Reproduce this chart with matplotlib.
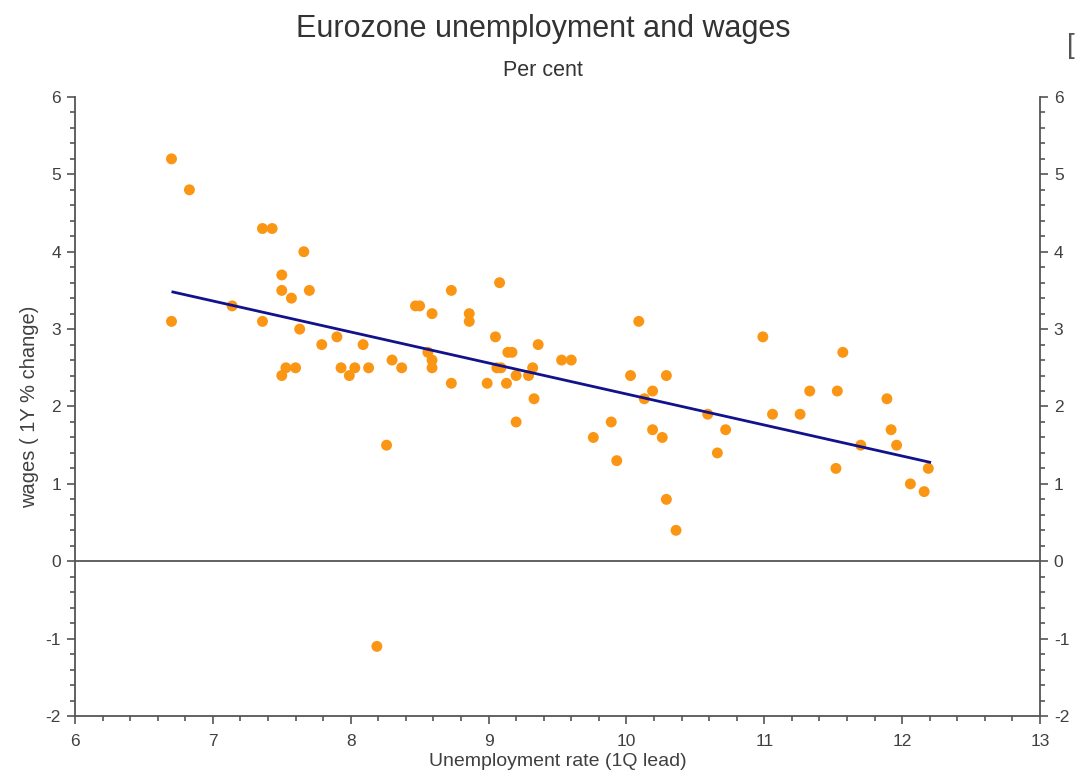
import matplotlib.pyplot as plt
from matplotlib.ticker import MultipleLocator

# unemployment rate (1Q lead), %
unemployment = [
    6.70, 6.83, 6.70, 7.14, 7.36, 7.43, 7.66, 7.50, 7.50, 7.70,
    7.57, 7.36, 7.63, 7.79, 7.90, 8.09, 7.50, 7.53, 7.60, 7.93,
    7.99, 8.03, 8.13, 8.30, 8.37, 8.26, 8.19, 8.47, 8.50, 8.73,
    8.59, 8.86, 8.86, 9.08, 9.05, 8.56, 8.59, 8.59, 9.06, 9.09,
    8.73, 8.99, 9.13, 9.14, 9.17, 9.36, 9.53, 9.60, 9.32, 9.20,
    9.29, 9.33, 9.20, 10.09, 10.03, 10.29, 10.19, 10.13, 9.89, 9.76,
    10.19, 10.26, 9.93, 10.29, 10.36, 10.99, 10.59, 10.72, 10.66, 11.06,
    11.26, 11.57, 11.33, 11.53, 11.89, 11.92, 11.70, 11.96, 11.52, 12.19,
    12.06, 12.16,
]
# wages, 1Y % change
wages = [
    5.2, 4.8, 3.1, 3.3, 4.3, 4.3, 4.0, 3.7, 3.5, 3.5,
    3.4, 3.1, 3.0, 2.8, 2.9, 2.8, 2.4, 2.5, 2.5, 2.5,
    2.4, 2.5, 2.5, 2.6, 2.5, 1.5, -1.1, 3.3, 3.3, 3.5,
    3.2, 3.2, 3.1, 3.6, 2.9, 2.7, 2.6, 2.5, 2.5, 2.5,
    2.3, 2.3, 2.3, 2.7, 2.7, 2.8, 2.6, 2.6, 2.5, 2.4,
    2.4, 2.1, 1.8, 3.1, 2.4, 2.4, 2.2, 2.1, 1.8, 1.6,
    1.7, 1.6, 1.3, 0.8, 0.4, 2.9, 1.9, 1.7, 1.4, 1.9,
    1.9, 2.7, 2.2, 2.2, 2.1, 1.7, 1.5, 1.5, 1.2, 1.2,
    1.0, 0.9,
]
# fitted trend line
fit_x = [6.71, 12.20]
fit_y = [3.48, 1.28]

plt.rcParams['font.family'] = ['Liberation Sans', 'DejaVu Sans']
plt.rcParams['axes.unicode_minus'] = False

fig = plt.figure(figsize=(10.76, 7.72), dpi=100)
ax = fig.add_axes([0.0697, 0.0725, 0.8968, 0.8019])

ax.axhline(0, color="#555555", lw=1.3, zorder=1)
ax.scatter(unemployment, wages, s=62, color="#FA9614", edgecolors="none", zorder=3)
ax.plot(fit_x, fit_y, color="#12128C", lw=2.0, zorder=4)

ax.set_xlim(6, 13)
ax.set_ylim(-2, 6)
ax.xaxis.set_major_locator(MultipleLocator(1))
ax.xaxis.set_minor_locator(MultipleLocator(0.2))
ax.yaxis.set_major_locator(MultipleLocator(1))
ax.yaxis.set_minor_locator(MultipleLocator(0.2))

ax.spines["top"].set_visible(False)
for s in ["left", "right", "bottom"]:
    ax.spines[s].set_color("#555555")
    ax.spines[s].set_linewidth(1.3)

ax.tick_params(axis="both", which="both", direction="out", colors="#555555",
               labelcolor="#404040", labelsize=12.5)
ax.tick_params(axis="y", which="both", left=True, right=True, labelleft=True, labelright=True)
ax.tick_params(which="major", length=6, width=1.2, pad=4)
ax.tick_params(axis="x", which="major", pad=7)
ax.tick_params(which="minor", length=3.5, width=1.2)

ax.set_xlabel("Unemployment rate (1Q lead)", fontsize=14, color="#404040", labelpad=3)
ax.set_ylabel("wages ( 1Y % change)", fontsize=14.5, color="#404040", labelpad=5)

fig.text(0.505, 0.963, "Eurozone unemployment and wages", ha="center", va="center",
         fontsize=22, color="#333333")
fig.text(0.505, 0.909, "Per cent", ha="center", va="center", fontsize=15.5, color="#333333")
fig.text(0.992, 0.94, "[", ha="left", va="center", fontsize=20, color="#555555")

fig.savefig("out.png", dpi=100)
